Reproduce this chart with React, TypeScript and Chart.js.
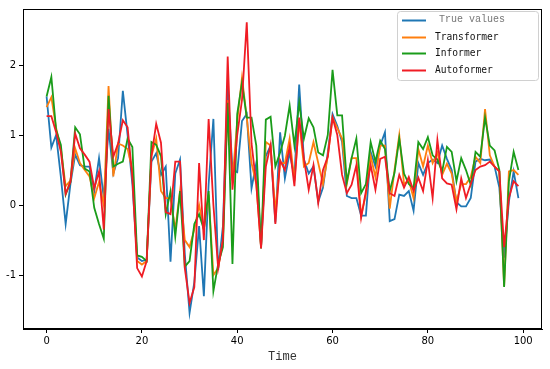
import React, { useEffect, useRef } from "react";
import { Chart, registerables } from "chart.js";

Chart.register(...registerables);

const steps: number[] = Array.from({ length: 100 }, (_, i) => i);

const trueValues: number[] = [
  1.55, 0.82, 1.0, 0.4, -0.27, 0.3, 0.72, 0.57, 0.55, 0.55,
  0.2, 0.67, 0.1, 1.09, 0.45, 0.67, 1.63, 1.0, 0.3, -0.75,
  -0.8, -0.78, 0.62, 0.74, 0.43, 0.55, -0.81, 0.45, 0.65, -0.7,
  -1.54, -1.1, -0.3, -1.3, 0.3, 1.23, -0.93, -0.3, 1.7, 0.5,
  0.47, 1.2, 1.3, 0.24, 0.6, -0.6, 0.7, 0.85, -0.25, 1.04,
  0.38, 0.75, 0.4, 1.72, 0.65, 0.45, 0.55, 0.05, 0.25, 0.75,
  1.3, 1.13, 0.9, 0.13, 0.1, 0.1, -0.15, -0.15, 0.76, 0.55,
  0.85, 1.04, -0.23, -0.2, 0.15, 0.13, 0.2, -0.08, 0.6, 0.43,
  0.6, 0.65, 0.6, 0.85, 0.66, 0.5, 0.04, -0.02, -0.02, 0.1,
  0.62, 0.66, 0.64, 0.65, 0.55, 0.25, -0.75, 0.05, 0.48, 0.1,
];

const transformer: number[] = [
  1.4, 1.54, 1.1, 0.8, 0.27, 0.35, 0.81, 0.6, 0.5, 0.41,
  0.1, 0.33, 0.0, 1.7, 0.41, 0.88, 0.85, 0.8, 0.5, -0.8,
  -0.85, -0.8, 0.7, 0.95, 0.2, 0.1, 0.1, -0.35, 0.2, -0.5,
  -0.6, -0.35, 0.0, -0.35, 0.15, -1.0, -0.9, -0.5, 1.5, 0.35,
  1.2, 1.82, 1.25, 0.6, 0.3, -0.6, 0.9, 0.85, -0.1, 0.6,
  0.6, 0.95, 0.35, 1.2, 0.55, 0.6, 0.9, 0.6, 0.3, 0.7,
  1.25, 1.1, 0.95, 0.3, 0.67, 0.67, -0.15, 0.15, 0.7, 0.4,
  0.85, 0.85, -0.05, 0.5, 1.0, 0.3, 0.35, 0.1, 0.8, 0.55,
  0.85, 0.6, 0.75, 0.43, 0.59, 0.45, 0.05, 0.3, 0.3, 0.4,
  0.69, 0.6, 1.37, 0.71, 0.55, 0.48, -1.16, 0.48, 0.5, 0.43,
];

const informer: number[] = [
  1.55, 1.83, 1.07, 0.86, 0.15, 0.33, 1.11, 1.01, 0.52, 0.48,
  -0.04, -0.27, -0.48, 1.56, 0.55, 0.59, 0.62, 0.95, 0.83, -0.72,
  -0.74, -0.8, 0.9, 0.86, 0.7, -0.13, 0.2, -0.45, 0.2, -0.88,
  -0.8, -0.27, -0.13, -0.35, 0.2, -1.23, -0.84, -0.6, 1.46, -0.84,
  1.3, 1.75, 1.25, 1.25, 0.85, -0.62, 1.22, 1.26, 0.55, 0.75,
  0.99, 1.42, 0.85, 1.46, 0.95, 1.24, 1.11, 0.75, 0.71, 1.0,
  1.93, 1.28, 1.28, 0.33, 0.67, 0.95, 0.17, 0.3, 0.9, 0.62,
  0.92, 0.8, 0.2, 0.46, 0.95, 0.45, 0.3, 0.24, 0.9, 0.8,
  0.97, 0.71, 0.65, 0.48, 0.83, 0.76, 0.34, 0.67, 0.5, 0.29,
  0.76, 0.69, 1.25, 0.85, 0.78, 0.5, -1.17, 0.34, 0.76, 0.5,
];

const autoformer: number[] = [
  1.27, 1.27, 1.04, 0.76, 0.16, 0.33, 1.02, 0.81, 0.72, 0.62,
  0.24, 0.48, -0.35, 1.37, 0.69, 0.88, 1.21, 1.11, 0.4, -0.9,
  -1.02, -0.8, 0.7, 1.16, 0.89, -0.1, -0.13, 0.62, 0.62, -0.9,
  -1.4, -1.17, 0.6, -0.5, 1.23, 0.0, -0.9, -0.5, 2.12, 0.22,
  1.0, 1.5, 2.61, 0.88, 0.3, -0.62, 0.55, 0.86, -0.27, 0.64,
  0.5, 0.83, 0.27, 1.25, 0.66, 0.22, 0.57, 0.03, 0.5, 0.69,
  1.25, 1.0, 0.43, 0.17, 0.29, 0.57, -0.18, 0.2, 0.57, 0.22,
  0.66, 0.69, 0.17, 0.13, 0.43, 0.25, 0.4, 0.2, 0.39, 0.2,
  0.64, 0.1, 0.93, 0.38, 0.31, 0.29, -0.06, 0.38, 0.1, 0.3,
  0.5, 0.55, 0.57, 0.62, 0.55, 0.48, -0.6, 0.1, 0.34, 0.27,
];

const xTicks: number[] = [0, 20, 40, 60, 80, 100];
const yTicks: number[] = [-1, 0, 1, 2];

const seriesNames = ["True values", "Transformer", "Informer", "Autoformer"];
const seriesColors = ["#1f77b4", "#ff7f0e", "#1a9c1a", "#f01c24"];

const frameAndLegend = {
  id: "frameAndLegend",
  afterDraw(chart: any) {
    const { ctx, chartArea } = chart;
    const { left, top, right, bottom } = chartArea;
    ctx.save();
    ctx.strokeStyle = "#000";
    ctx.lineWidth = 1;
    ctx.strokeRect(left + 0.5, top + 0.5, right - left - 1, bottom - top - 1);

    // legend box
    const bx = 397, by = 11, bw = 141, bh = 69;
    ctx.beginPath();
    (ctx as any).roundRect(bx + 0.5, by + 0.5, bw, bh, 3);
    ctx.fillStyle = "rgba(255,255,255,0.85)";
    ctx.fill();
    ctx.strokeStyle = "#d0d0d0";
    ctx.stroke();

    const rowY = [20.5, 37.5, 53.5, 70.5];
    for (let i = 0; i < 4; i++) {
      ctx.beginPath();
      ctx.strokeStyle = seriesColors[i];
      ctx.lineWidth = 2;
      ctx.moveTo(402, rowY[i]);
      ctx.lineTo(426, rowY[i]);
      ctx.stroke();
      ctx.textBaseline = "middle";
      ctx.textAlign = "left";
      if (i === 0) {
        ctx.fillStyle = "#777";
        ctx.font = "10px 'Liberation Mono'";
        ctx.fillText(seriesNames[i], 439, rowY[i] - 1);
      } else {
        ctx.fillStyle = "#111";
        ctx.font = "9.6px 'DejaVu Sans Mono'";
        ctx.fillText(seriesNames[i], 435, rowY[i]);
      }
    }
    ctx.restore();
  },
};

export default function App() {
  const ref = useRef<HTMLCanvasElement | null>(null);
  useEffect(() => {
    if (!ref.current) return;
    const datasets = [trueValues, transformer, informer, autoformer].map((d, i) => ({
      label: seriesNames[i],
      data: d,
      borderColor: seriesColors[i],
      backgroundColor: seriesColors[i],
      borderWidth: 1.8,
      pointRadius: 0,
      tension: 0,
      fill: false,
      order: 3 - i,
    }));
    const chart = new Chart(ref.current, {
      type: "line",
      data: { labels: steps, datasets },
      options: {
        animation: false,
        responsive: false,
        layout: { padding: { left: 0, right: 8, top: 5, bottom: 0 } },
        plugins: { legend: { display: false }, tooltip: { enabled: false } },
        scales: {
          x: {
            type: "linear",
            min: -4.95,
            max: 103.95,
            afterBuildTicks: (s: any) => {
              s.ticks = xTicks.map((v) => ({ value: v }));
            },
            afterFit: (s: any) => {
              s.height = 40;
            },
            grid: {
              drawOnChartArea: false,
              drawTicks: true,
              tickLength: 4,
              color: "#000",
            },
            border: { display: true, color: "#000" },
            ticks: {
              color: "#000",
              padding: 2,
              font: { family: "'DejaVu Sans'", size: 10 },
              maxRotation: 0,
            },
            title: {
              display: true,
              text: "Time",
              color: "#333",
              font: { family: "'Liberation Mono'", size: 12 },
              padding: { top: 0, bottom: 5 },
            },
          },
          y: {
            type: "linear",
            min: -1.77,
            max: 2.8,
            afterBuildTicks: (s: any) => {
              s.ticks = yTicks.map((v) => ({ value: v }));
            },
            afterFit: (s: any) => {
              s.width = 23;
            },
            grid: {
              drawOnChartArea: false,
              drawTicks: true,
              tickLength: 4,
              color: "#000",
            },
            border: { display: true, color: "#000" },
            ticks: {
              color: "#000",
              padding: 3,
              font: { family: "'DejaVu Sans'", size: 10 },
            },
          },
        },
      },
      plugins: [frameAndLegend],
    });
    return () => chart.destroy();
  }, []);
  return (
    <div style={{ position: "fixed", left: 0, top: 0, width: 550, height: 369, background: "#fff" }}>
      <canvas ref={ref} width={550} height={369} style={{ display: "block" }} />
    </div>
  );
}
